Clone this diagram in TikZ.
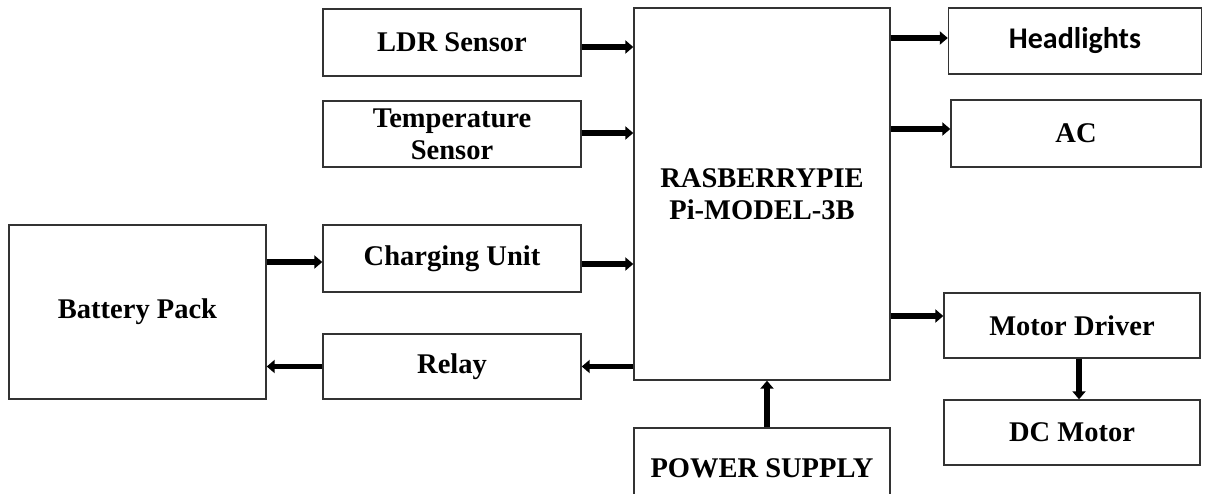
\documentclass[tikz,border=0pt]{standalone}
\usepackage{fontspec}
\setmainfont{Liberation Serif}
\newfontfamily\calib{Carlito}
\usetikzlibrary{arrows.meta,calc}
\tikzset{
  blk/.style={draw=black!80, line width=1.4pt, rectangle, inner sep=0pt, align=center,
    font=\bfseries\fontsize{28.5}{32}\selectfont},
  conn/.style={line width=5.5pt, -{Triangle[length=8pt,width=13pt]}, black}
}
\begin{document}
\begin{tikzpicture}[x=1pt,y=-1pt]
\clip (0,0) rectangle (1206,493);
\fill[white] (0,0) rectangle (1206,493);
\node[blk, minimum width=258pt, minimum height=67pt] (ldr) at (452,42.5) {LDR Sensor};
\node[blk, minimum width=258pt, minimum height=66pt] (temp) at (452,134) {Temperature\\Sensor};
\node[blk, minimum width=258pt, minimum height=67pt] (chg) at (452,258.5) {Charging Unit};
\node[blk, minimum width=258pt, minimum height=65pt] (relay) at (452,366.5) {Relay};
\node[blk, minimum width=257pt, minimum height=174pt] (batt) at (137.5,312) {Battery Pack};
\node[blk, minimum width=256pt, minimum height=372pt] (rpi) at (762,194) {RASBERRYPIE\\Pi-MODEL-3B};
\node[blk, minimum width=253pt, minimum height=66pt, font=\calib\bfseries\fontsize{30}{34}\selectfont] (head) at (1075,41) {Headlights};
\node[blk, minimum width=250pt, minimum height=67pt] (ac) at (1076,133.5) {AC};
\node[blk, minimum width=256pt, minimum height=65pt] (md) at (1072,325.5) {Motor Driver};
\node[blk, minimum width=256pt, minimum height=65pt] (dc) at (1072,432.5) {DC Motor};
\node[blk, minimum width=256pt, minimum height=80pt] (ps) at (762,468) {POWER SUPPLY};

\draw[conn] ([yshift=-4.5pt]ldr.east) -- ([yshift=-4.5pt]ldr.east -| rpi.west);
\draw[conn] ([yshift=1pt]temp.east) -- ([yshift=1pt]temp.east -| rpi.west);
\draw[conn] ([yshift=-5.5pt]chg.east) -- ([yshift=-5.5pt]chg.east -| rpi.west);
\draw[conn] ([yshift=-3.5pt]batt.east |- chg.west) -- ([yshift=-3.5pt]chg.west);
\draw[conn] (rpi.west |- relay.east) -- (relay.east);
\draw[conn] (relay.west) -- (relay.west -| batt.east);
\draw[conn] ([yshift=3pt]rpi.east |- head.west) -- ([yshift=3pt]head.west);
\draw[conn] ([yshift=4.5pt]rpi.east |- ac.west) -- ([yshift=4.5pt]ac.west);
\draw[conn] ([yshift=9.5pt]rpi.east |- md.west) -- ([yshift=9.5pt]md.west);
\draw[conn] ([xshift=7pt]md.south) -- ([xshift=7pt]dc.north);
\draw[conn] ([xshift=5pt]ps.north) -- ([xshift=5pt]ps.north |- rpi.south);
\end{tikzpicture}
\end{document}
